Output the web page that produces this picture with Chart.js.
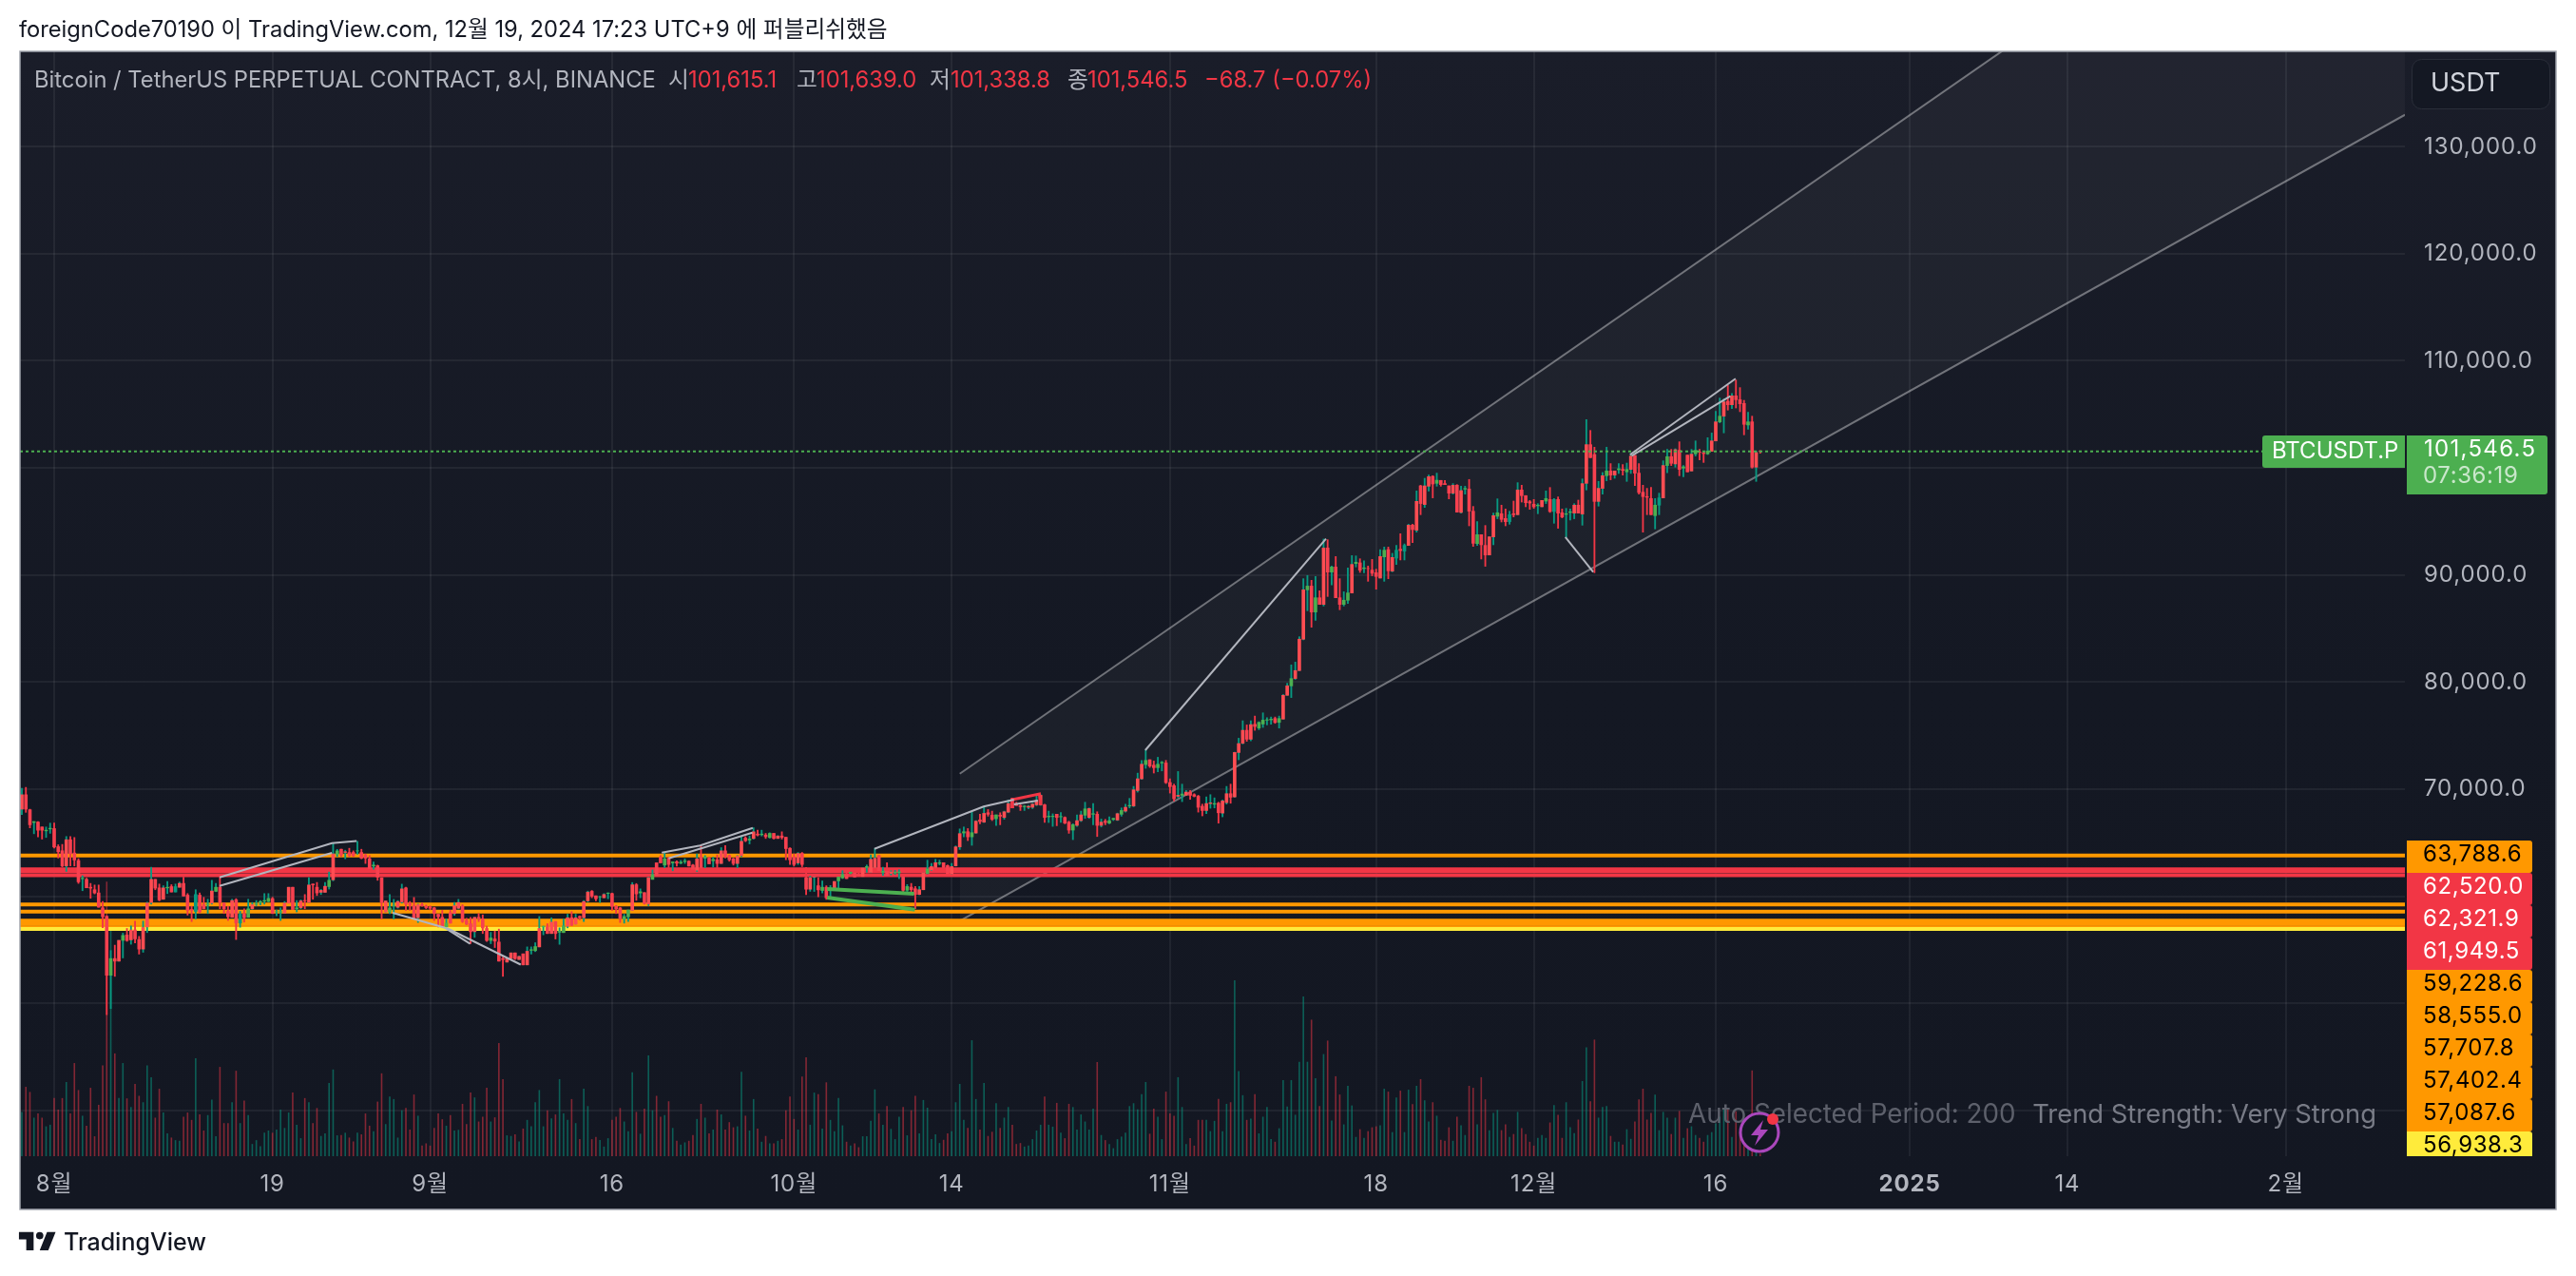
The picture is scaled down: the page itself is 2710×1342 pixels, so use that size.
<!DOCTYPE html>
<html lang="ko">
<head>
<meta charset="utf-8">
<title>BTCUSDT.P</title>
<script src="https://cdn.jsdelivr.net/npm/chart.js@4"></script>
<style>
  html, body { margin: 0; padding: 0; background: #fff; overflow: hidden; }
  body { width: 2710px; height: 1342px; position: relative; font-family: Inter, "Noto Sans CJK KR", sans-serif; }
  #chart { position: absolute; left: 0; top: 0; }
  #byline { position: absolute; left: 20px; top: 16px; font-size: 23.7px; line-height: 30px; color: #131722; white-space: nowrap; }
  #brand { position: absolute; left: 20px; top: 1290px; height: 32px; display: flex; align-items: center; color: #131722; font-size: 25px; font-weight: 500; }
  #brand svg { width: 47px; height: 36px; margin-left: -3px; margin-right: 3px; }
</style>
</head>
<body>
<canvas id="chart" width="2710" height="1342"></canvas>
<div id="byline">foreignCode70190 이 TradingView.com, 12월 19, 2024 17:23 UTC+9 에 퍼블리쉬했음</div>
<div id="brand">
  <svg viewBox="0 0 36 28"><path fill="#131722" d="M14 6H2v6h6v9h6V6Zm12 15h-7l6-15h7l-6 15Zm-7-9a3 3 0 1 0 0-6 3 3 0 0 0 0 6Z"/></svg>
  <span>TradingView</span>
</div>
<script>
// 8h candles, index 0 = Aug 1 2024, one index is one candle
const firstCandle = -8;

const candleOpen = [
  68100,69500,68100,66850,66950,66490,66070,66250,
  66340,64650,64270,62790,65300,64060,63350,61600,61600,60860,
  60630,60330,58940,58140,52580,54200,53900,55840,56400,55890,
  56870,55980,55030,57100,59380,61600,60800,59680,60740,60920,
  60360,60800,61220,60120,58790,58550,60120,59230,59150,59320,
  60420,60860,59380,58640,57990,59680,57460,58380,57990,58790,
  59210,59380,59500,59470,59800,58500,58470,58380,59320,60860,
  58790,58880,59620,59380,61160,60860,60330,60330,60860,61500,
  63880,64410,64060,64110,64110,64190,64110,63880,63520,62780,
  62870,61750,58490,58490,59050,58930,59440,60800,59320,59140,
  57960,59230,59080,59020,58930,58340,58050,57100,58490,58340,
  58840,59080,57750,57450,56650,58050,57900,57010,55830,56030,
  55740,54200,53810,54140,54730,54050,54640,53550,54910,54880,
  55230,57100,57160,56480,57660,56600,56570,57160,58010,57360,
  58130,57960,59530,60480,60060,59910,59820,60230,60270,59080,
  58930,57810,58040,58640,61090,60270,60360,59230,61540,63140,
  63670,62870,63580,63080,63230,63050,63200,63290,62930,62400,
  63670,63520,63580,63280,63430,63020,64260,63820,63520,63020,
  63760,65450,65210,65360,65830,65710,65740,65450,65890,65360,
  65650,65530,64500,63670,63080,64020,61750,60620,61750,61000,
  60500,60860,60570,60570,61400,61670,62050,62110,62200,62050,
  61810,62645,62200,62640,63830,62200,62350,62100,62140,62170,
  61810,60520,60870,60720,60130,60570,62100,62410,62645,63030,
  63150,62880,62050,62790,64570,65870,66050,65510,65870,67150,
  66880,67820,67590,67200,67590,67320,67820,69160,68680,68480,
  68330,68270,68270,68500,68500,68560,67380,67400,67680,67380,
  67380,66940,66140,66580,67030,67530,67320,67620,67680,66580,
  67030,66790,67140,67080,67620,67910,68390,68390,69840,70930,
  72260,72770,72260,71970,72410,72470,70640,70340,69300,69390,
  69390,69750,69510,69360,68420,67970,68620,68560,68710,67730,
  68710,69600,69240,73390,74250,75520,74630,76080,75670,76050,
  76410,76440,76620,76200,76510,78730,79610,80300,81040,83970,
  88580,88990,86510,87900,87220,92550,90240,90770,87900,87220,
  87610,88290,91040,91160,90570,90630,90480,90240,89680,91660,
  92400,90330,91540,92430,92200,92730,94680,94150,98350,96550,
  98260,99240,98530,98860,98560,98350,97610,98410,95810,97990,
  98060,95980,92900,93790,92790,91840,93530,95450,95750,95300,
  94950,95750,95600,97970,97440,96870,96640,96430,96340,96870,
  97080,95900,97080,95840,95630,95810,95750,96550,95660,98530,
  102200,101280,96840,98060,99240,99740,99300,99800,99890,99600,
  99830,101190,99540,97760,97350,97170,95510,96490,97170,100190,
  101080,100340,101670,99950,101220,99680,101280,101520,101430,101280,
  101520,102490,104270,104800,106250,105870,106760,106400,106050,103980,
  104330,100040,101615.1
];

const candleHigh = [
  70100,70190,68150,67000,66990,66490,66490,66850,
  66850,64830,64860,65600,65600,65510,63530,61930,61700,61220,
  61070,61070,59530,58200,54950,55450,55900,56570,57010,57250,
  57700,56270,57700,59470,62730,61600,61160,61000,61400,61100,
  61160,61340,61800,60270,59090,60630,60330,59920,59740,61510,
  61220,61800,59380,59090,59740,59800,58610,58850,59740,59440,
  59620,59620,60270,60270,59920,58730,58940,59530,60860,60860,
  59620,59680,60180,61750,61160,61310,60660,61310,62280,64990,
  64400,64410,64320,64500,64260,65150,64410,63960,63820,63230,
  62930,61750,59580,60180,59730,59620,61150,60860,59530,59910,
  59290,59380,59200,59110,58990,58340,58700,57900,58700,59440,
  59730,59230,57960,58050,58050,58400,58280,57220,56650,56770,
  56950,54350,54200,54730,54730,54430,54640,55290,55290,55680,
  58130,57220,57450,58010,57660,57070,57900,58340,58580,58340,
  58190,59620,60500,60560,60060,60030,60270,60350,60320,59170,
  58990,58340,58730,61300,61210,60710,60360,61800,62480,63140,
  63820,64110,63670,63230,63340,63370,63520,63340,62990,63970,
  64705,63820,63670,63670,63880,64560,64760,63880,63580,63820,
  65590,65590,65650,66420,66190,66190,65890,65950,65890,65680,
  66040,65530,64560,63970,64110,64110,62720,61890,61830,61750,
  61450,61000,61020,61400,61810,62410,62170,62290,62260,62200,
  62650,62940,63890,64480,63830,62730,63150,62400,62440,62500,
  61810,61110,61220,60930,60930,62200,63390,63090,63470,63390,
  63150,62940,63090,64720,66310,66490,66340,67910,67085,67680,
  68360,68120,67970,67620,67820,67970,69010,69160,68800,68560,
  68500,68500,68700,69390,69500,68620,67970,67720,67680,67830,
  67440,67030,66790,67620,67970,68800,68270,68680,67910,67230,
  67200,67440,67320,67790,68270,68620,69160,70280,71520,72710,
  73690,72770,72650,73000,72620,72710,70990,70490,71670,70490,
  69900,69900,69600,69450,68620,69300,69510,69210,68800,69010,
  70280,70490,73480,74780,76410,76020,76410,76850,76320,77150,
  76700,76760,76760,76850,78860,79910,81630,81890,84260,89680,
  89980,89530,89890,88550,93380,93320,90860,91750,89680,88460,
  90680,91840,91810,91540,91360,90860,91480,90570,92400,92640,
  92640,92050,92790,93880,92930,94770,94770,97880,98410,99060,
  99360,99300,99540,98860,98860,98350,98560,98470,98320,98320,
  98950,96430,95010,93790,94650,93590,95810,97140,96550,96190,
  95980,96930,98650,98410,97440,96990,97080,96690,96990,97880,
  98200,97170,97320,96190,96250,96190,96690,97020,99000,104540,
  103530,101960,98770,99600,101960,100430,99740,100430,100340,100480,
  101370,101190,100430,98410,98120,98210,97170,97670,100690,101760,
  101760,101820,102470,100250,101220,101760,102550,101760,101520,102850,
  103290,105310,106550,106460,107730,106990,108240,107530,106340,105220,
  104860,101610,101639
];

const candleLow = [
  67600,67800,66350,65800,65500,65300,65450,65840,
  64470,63530,62700,62280,62790,62790,61160,60480,60750,59770,
  60180,58940,57020,48900,49470,52480,53900,54200,55750,55480,
  55600,54560,54730,56570,59230,60570,59530,59680,60210,60360,
  60360,60800,59980,58200,57600,57840,58400,58790,58350,59230,
  60390,58790,58350,57700,57990,55920,57070,57550,57990,58730,
  59090,59150,59230,59440,58350,58140,57700,58380,59320,58730,
  58500,58790,58790,59380,59680,60030,60120,60330,60630,61400,
  63670,63670,63460,63670,63670,63880,63460,63020,62540,62480,
  61450,57840,58490,58340,57840,58840,59320,58640,58640,57900,
  57510,59020,58790,58700,57690,57100,57100,57100,57450,58190,
  58780,57510,57310,55530,56120,57600,56480,55740,55530,55170,
  53900,52480,53810,54110,54050,54050,53550,53550,54560,54790,
  55230,56360,56480,56480,55970,55470,56570,57010,57220,57360,
  57750,57600,59440,59820,59530,59380,59820,59730,58640,58340,
  57510,57450,57600,58640,59580,59820,59230,59080,61540,61830,
  63080,62630,62630,62340,62780,62990,63020,62780,62340,62280,
  62630,62630,62990,62690,62630,63020,63520,63230,62870,62630,
  63670,65060,64850,65300,65590,65590,65360,65390,65300,65360,
  65300,63370,62930,62780,62930,62720,60120,60420,60410,59910,
  60270,59670,59830,60570,60720,61610,61610,62050,61760,61900,
  61810,62200,62200,62640,62350,61910,61910,61950,61990,61610,
  60280,60340,60370,58800,60100,60570,62050,62350,62645,62880,
  62645,62050,62050,62790,64330,65510,65160,64720,65840,66730,
  66850,67440,67030,66580,66640,67150,67760,68210,68440,67970,
  67970,68120,68150,68420,68450,66850,66850,66490,66550,66850,
  66730,65840,65250,66490,66940,67230,67230,66640,65540,66430,
  66640,66730,67030,67030,67440,67820,68210,68330,69690,70870,
  71910,71990,71470,71590,71670,70490,69600,68860,69160,68800,
  69390,69010,69240,67820,67470,67680,68180,68210,66790,67380,
  68570,68650,69210,72710,74190,74430,74480,75460,75520,75730,
  75970,76030,76110,75670,76510,78730,78520,80210,81040,83910,
  86630,85090,85740,87220,87070,87960,89030,87840,86720,87070,
  87310,88290,90720,90210,90180,89380,89890,88640,89680,89380,
  89620,90270,90950,91370,91370,92730,93000,93970,95600,96280,
  97820,97170,98260,98260,98410,97080,97520,95840,95750,97520,
  94560,92640,92730,91460,90780,91840,92790,95220,94920,94560,
  94710,95390,95600,96780,96340,96100,96190,95690,96340,96640,
  95810,94800,94330,95300,93470,95100,95220,95750,94620,97910,
  100930,90180,96400,97520,98770,98860,99000,99450,99300,98710,
  99450,98320,97520,93970,95600,95600,94270,95600,97170,99510,
  100190,100040,99240,99150,99600,99680,101080,100720,100480,101220,
  101520,102490,104180,103240,105370,105510,105570,105220,103060,103590,
  99950,98710,101338.8
];

const candleClose = [
  69500,68100,66640,66990,66130,66130,66190,66370,
  64560,64120,62790,65300,63940,63350,61310,61700,60750,60720,
  60270,58940,58050,52580,54200,53900,55900,56360,55830,56870,
  55980,55030,57100,59380,61600,60720,59620,60800,60860,60360,
  60920,61220,59980,58640,58640,60180,58500,58790,59290,60510,
  60860,59380,58790,58050,59620,57460,58350,57960,58850,59230,
  59320,59530,59620,59820,58350,58590,58590,59380,60860,58730,
  58940,59590,59530,61070,61020,60270,60570,60950,61510,63970,
  64260,63820,64180,63760,63760,64260,63520,63520,62540,62930,
  61750,59380,59580,58930,59120,59530,60710,59230,59140,57900,
  59230,59080,58900,58840,58340,58050,57160,57510,57450,59140,
  59440,57600,57360,56650,58050,57900,57010,55830,56120,55770,
  53900,54050,54200,54730,54140,54400,53550,54880,55030,55320,
  57010,57220,56480,57600,56480,56750,57250,58010,57250,58010,
  57960,59530,60410,59970,59730,59970,60180,60320,59020,58790,
  57900,58130,58730,61090,60180,60440,59290,61750,62040,61890,
  63080,63520,62930,63230,63050,63200,63320,62780,62480,63520,
  62630,63670,62990,63460,63020,64260,63670,63370,63020,63760,
  65150,65150,65360,66040,65680,65830,65530,65890,65360,65650,
  65450,64410,63370,62930,64020,62930,60620,61750,61810,60560,
  60860,59820,60780,61400,61810,62050,61610,62260,61760,61900,
  62645,62790,63470,63560,62350,62350,61910,62290,62260,62290,
  60520,60930,60570,60130,60630,62200,62560,62790,63150,63150,
  62645,62050,62790,64630,65870,66050,65510,65960,67030,66940,
  67760,67620,67150,67620,67440,67910,68680,68210,68440,68330,
  68440,68420,68620,68980,69450,67320,67500,67500,67320,67470,
  66790,66140,66700,67080,67620,68180,68210,67730,66580,66940,
  66850,67080,67290,67730,68030,68330,68500,69960,70990,72350,
  72710,72120,71970,72350,72530,70580,70200,69070,69450,69570,
  69750,69390,69300,68270,67970,68680,68740,68680,67760,68920,
  69600,69210,73450,74280,75520,74630,76050,75820,76260,76470,
  76500,76560,76200,76620,78790,79670,80350,81100,84030,88640,
  88990,86510,87900,87220,92550,90240,90770,87840,87220,87670,
  88350,91010,91220,90420,90690,90570,90120,89830,91750,92340,
  90360,91660,92340,92250,92790,94680,94210,96900,96640,98350,
  99210,98470,98880,98410,98410,97610,98410,95840,97910,98110,
  95930,92930,93790,92790,91840,93590,95570,95840,95160,94950,
  95660,95600,97970,97380,96720,96690,96340,96550,96990,97170,
  95900,97080,95750,95390,95750,95930,96550,95750,98560,102200,
  100930,96840,98120,99300,99740,99300,99740,99950,99740,99890,
  101130,99480,97670,97290,97230,95600,96550,97230,100250,101080,
  100400,101730,99830,100130,99600,101310,101670,101430,101310,101610,
  102550,104330,104860,106200,105870,106760,106340,105960,104040,104330,
  100040,101460,101546.5
];

const candleVolume = [
  138,216,200,120,133,120,93,98,
  181,145,181,231,133,290,206,126,95,213,
  62,160,283,855,713,320,181,290,180,153,
  225,188,168,283,246,120,210,136,71,58,
  50,48,123,136,113,305,130,80,128,176,
  62,278,103,103,168,266,103,173,128,38,
  50,31,73,80,73,83,145,88,136,198,
  98,56,181,168,103,150,63,71,228,270,
  65,66,73,58,46,73,68,133,95,78,
  170,258,100,186,178,58,143,150,83,192,
  126,33,40,33,88,133,115,95,128,80,
  82,163,100,198,183,108,123,213,108,121,
  352,240,65,63,68,46,86,113,93,168,
  206,93,143,118,130,240,133,113,178,103,
  53,210,156,53,60,50,30,56,113,123,
  150,108,78,261,138,70,148,314,143,188,
  123,128,171,88,48,36,43,48,66,116,
  163,120,71,83,145,130,83,106,90,93,
  263,126,80,178,86,45,63,40,40,48,
  53,143,186,116,83,248,308,98,198,193,
  86,230,113,78,181,96,45,33,40,28,
  62,62,110,208,133,98,156,85,53,123,
  153,65,143,188,71,175,151,53,68,41,
  51,71,78,168,225,113,88,361,178,83,
  228,63,76,165,88,120,153,98,38,41,
  30,33,53,80,98,186,98,92,166,73,
  56,163,153,83,130,108,83,148,293,66,
  50,38,25,53,61,73,156,165,146,193,
  231,70,148,123,53,201,133,126,246,153,
  38,56,33,113,113,113,78,110,178,78,
  163,168,548,265,190,113,117,193,71,123,
  153,53,45,87,237,155,237,129,294,497,
  294,425,243,156,318,360,111,249,192,99,
  219,158,60,84,57,78,90,93,96,210,
  201,75,183,204,75,207,162,219,240,174,
  108,168,126,51,48,90,48,123,96,66,
  219,213,99,246,177,81,135,144,81,99,
  60,69,138,87,69,45,33,57,66,57,
  105,159,129,57,168,90,72,114,234,339,
  171,363,120,153,156,63,45,45,36,84,
  54,108,177,210,114,135,192,81,138,120,
  69,120,141,57,87,93,66,57,45,66,
  75,102,123,150,147,60,140,75,55,60,
  267,20,8
];

// candles whose body is painted by the study instead of plain red
const greenBodies = [-5,-2,-1,7,14,17,28,38,40,48,50,51,52,53,55,56,60,68,70,75,79,83,84,97,108,118,119,121,125,126,135,137,141,142,145,148,151,153,155,156,161,163,172,175,177,190,192,194,195,197,201,205,208,209,211,216,219,225,227,233,240,246,247,249,252,255,257,261,262,264,266,270,273,274,279,287,298,299,300,301,303,306,310,312,316,319,320,322,324,329,342,349,352,357,367,369,374,375,384,387,389,396,399,403,406,409,412,419];
const tealBodies = [30,35,46,332,334,360,371,397];

const timeTickCandles = [0, 54, 93, 138, 183, 222, 276, 327, 366, 411, 459, 498, 552];
const timeTickLabels = ['8월', '19', '9월', '16', '10월', '14', '11월', '18', '12월', '16', '2025', '14', '2월'];
const priceTicks = [40000, 50000, 60000, 70000, 80000, 90000, 100000, 110000, 120000, 130000];

// support / resistance levels with their tags on the price scale
const levelPrices = [63788.6, 62520.0, 62321.9, 61949.5, 59228.6, 58555.0, 57707.8, 57402.4, 57087.6, 56938.3];
const levelColors = ['#ff9800', '#f23645', '#f23645', '#f23645', '#ff9800', '#ff9800', '#ff9800', '#ff9800', '#ff9800', '#ffeb3b'];
const levelTextColors = ['#000', '#fff', '#fff', '#fff', '#000', '#000', '#000', '#000', '#000', '#000'];

const lastPrice = 101546.5;
const countdown = '07:36:19';

// rising channel, same candle positions on both rails
const channelCandles = [224, 581.5];
const channelUpper = [71439, 165018];
const channelLower = [57673, 132984];

// drawn swing lines as [candle, price] pairs
const swingLines = [
  [[40.9, 61758], [68.7, 64947], [74.8, 65151]],
  [[40.9, 60959], [68.7, 64041]],
  [[83.7, 58446], [96.6, 57051], [102.9, 55551]],
  [[97.1, 57025], [115.4, 53606]],
  [[150.3, 64068], [159.8, 64725], [172.8, 66377]],
  [[152, 63535], [172.7, 65932]],
  [[202.9, 64423], [229.9, 68366], [237.4, 69014]],
  [[237.4, 68570], [243.3, 68925]],
  [[269.9, 73632], [314.6, 93375]],
  [[373.8, 93526], [380.7, 90266]],
  [[389.8, 101226], [415.9, 108330]],
  [[390.2, 101137], [414.6, 106696]]
];
const bearSwing = [[237, 68215], [237, 69014], [243.7, 69547], [244, 68508]];
const bullSwings = [
  [[191.2, 60666], [212.7, 60222]],
  [[191.2, 59867], [212.9, 58739]]
];

const panelLeft = 21, panelTop = 54, panelRight = 2689, panelBottom = 1272;
const uiFont = 'Inter, "Noto Sans CJK KR", sans-serif';
const teal = '#089981', red = '#f23645', green = '#4caf50';

const candles = candleClose.map((close, i) => {
  const open = candleOpen[i];
  const x = i + firstCandle;
  return { x, open, close, high: candleHigh[i], low: candleLow[i], volume: candleVolume[i], up: close >= open };
});

const bodyColor = (c) => {
  if (greenBodies.includes(c.x)) return green;
  if (tealBodies.includes(c.x)) return teal;
  return c.up ? '#ff4d52' : '#f7404f';
};

const lineSet = (points, color, width, order, extra) => ({
  type: 'line',
  data: points.map(([x, y]) => ({ x, y })),
  borderColor: color,
  borderWidth: width,
  pointRadius: 0,
  tension: 0,
  fill: false,
  order,
  yAxisID: 'y',
  ...extra
});

const barSet = (data, colors, pct, order, axis) => ({
  type: 'bar',
  data,
  backgroundColor: colors,
  borderWidth: 0,
  grouped: false,
  barPercentage: pct,
  categoryPercentage: 1,
  order,
  yAxisID: axis
});

const xMin = (panelLeft - 57) / 4.253;
const xMax = (2530 - 57) / 4.253;

const datasets = [
  lineSet(channelCandles.map((x, i) => [x, channelUpper[i]]), 'rgba(255,255,255,0.38)', 2, 6, { fill: '+1', backgroundColor: 'rgba(255,255,255,0.035)' }),
  lineSet(channelCandles.map((x, i) => [x, channelLower[i]]), 'rgba(255,255,255,0.38)', 2, 6),
  barSet(candles.map((c) => ({ x: c.x, y: c.volume })), candles.map((c) => (c.up ? 'rgba(8,153,129,0.55)' : 'rgba(242,54,69,0.5)')), 0.38, 7, 'vol'),
  barSet(candles.map((c) => ({ x: c.x, y: [c.low, c.high] })), candles.map((c) => (c.up ? teal : red)), 0.44, 4, 'y'),
  barSet(candles.map((c) => ({ x: c.x, y: [c.open, c.close] })), candles.map(bodyColor), 0.86, 3, 'y'),
  lineSet([[xMin, lastPrice], [xMax, lastPrice]], green, 2, 2, { borderDash: [3, 3] }),
  // the lower a level, the later it is painted, so the yellow one stays whole
  ...levelPrices.map((p, i) => lineSet([[xMin, p], [xMax, p]], levelColors[i], 4, 5 - i * 0.01)),
  ...swingLines.map((pts) => lineSet(pts, '#b2b5be', 2, 1)),
  lineSet(bearSwing, '#f23645', 3, 1),
  ...bullSwings.map((pts) => lineSet(pts, green, 4, 1))
];

const fmtPrice = (v) => v.toLocaleString('en-US', { minimumFractionDigits: 1, maximumFractionDigits: 1 });

// panel background, drawn under the grid
const panelBackground = {
  id: 'panelBackground',
  beforeDraw(chart) {
    const { ctx } = chart;
    const g = ctx.createLinearGradient(0, panelTop, 0, panelBottom);
    g.addColorStop(0, '#1a1d29');
    g.addColorStop(0.55, '#141823');
    g.addColorStop(1, '#131722');
    ctx.save();
    ctx.fillStyle = g;
    ctx.fillRect(panelLeft, panelTop, panelRight - panelLeft, panelBottom - panelTop);
    ctx.restore();
    // axis digits run wider than plain Inter
    ctx.letterSpacing = '0.9px';
  }
};

const text = (ctx, str, x, y, color, font, align, spacing) => {
  ctx.letterSpacing = spacing || '0px';
  ctx.fillStyle = color;
  ctx.font = font;
  ctx.textAlign = align || 'left';
  ctx.textBaseline = 'middle';
  ctx.fillText(str, x, y);
};

// legend row, tags, badge and study status on top of everything
const overlays = {
  id: 'overlays',
  afterDraw(chart) {
    const { ctx, chartArea } = chart;
    const font24 = `24px ${uiFont}`;
    const wide = '1.3px';
    ctx.save();

    // legend row
    const grey = '#b2b5be';
    const legendFont = `23.75px ${uiFont}`;
    text(ctx, 'Bitcoin / TetherUS PERPETUAL CONTRACT, 8시, BINANCE', 36, 85, grey, legendFont);
    [['시', 703, 724, 101615.1], ['고', 838, 859, 101639.0], ['저', 978, 1000, 101338.8], ['종', 1123, 1144, lastPrice]].forEach(([k, kx, vx, v]) => {
      text(ctx, k, kx, 85, grey, legendFont);
      text(ctx, fmtPrice(v), vx, 85, red, legendFont);
    });
    text(ctx, '−68.7 (−0.07%)', 1267, 85, red, legendFont);

    // study status line
    text(ctx, 'Auto Selected Period: 200', 1776, 1173, '#5d606b', `27.8px ${uiFont}`);
    text(ctx, 'Trend Strength: Very Strong', 2500, 1173, '#787b86', `27.4px ${uiFont}`, 'right');

    // alert badge
    const bx = 1851, by = 1191;
    ctx.beginPath();
    ctx.arc(bx, by, 20, 0, Math.PI * 2);
    ctx.fillStyle = '#131722';
    ctx.fill();
    ctx.strokeStyle = '#ab47bc';
    ctx.lineWidth = 3;
    ctx.stroke();
    ctx.beginPath();
    ctx.moveTo(bx + 4, by - 13);
    ctx.lineTo(bx - 9, by + 3);
    ctx.lineTo(bx - 1, by + 3);
    ctx.lineTo(bx - 5, by + 14);
    ctx.lineTo(bx + 9, by - 3);
    ctx.lineTo(bx + 1, by - 3);
    ctx.closePath();
    ctx.fillStyle = '#ab47bc';
    ctx.fill();
    ctx.beginPath();
    ctx.arc(bx + 14, by - 14, 6, 0, Math.PI * 2);
    ctx.fillStyle = red;
    ctx.fill();

    // stacked level tags on the price scale, clipped at the bottom of the plot
    ctx.save();
    ctx.beginPath();
    ctx.rect(2530, panelTop, 160, chartArea.bottom - panelTop);
    ctx.clip();
    const tagLeft = 2532, tagWidth = 132, tagHeight = 34;
    levelPrices.forEach((p, i) => {
      const top = 884 + i * tagHeight;
      ctx.fillStyle = levelColors[i];
      ctx.beginPath();
      ctx.roundRect(tagLeft, top, tagWidth, tagHeight, [0, 3, 3, 0]);
      ctx.fill();
      text(ctx, fmtPrice(p), 2549, top + 15, levelTextColors[i], font24, 'left', '0.6px');
    });
    ctx.restore();

    // last price tags
    ctx.fillStyle = green;
    ctx.beginPath();
    ctx.roundRect(2380, 458, 150, 34, [3, 0, 0, 3]);
    ctx.fill();
    text(ctx, 'BTCUSDT.P', 2390, 475, '#fff', font24);
    ctx.fillStyle = green;
    ctx.beginPath();
    ctx.roundRect(2532, 458, 148, 62, [0, 3, 3, 0]);
    ctx.fill();
    text(ctx, fmtPrice(lastPrice), 2550, 473, '#fff', font24, 'left', wide);
    text(ctx, countdown, 2549, 501, 'rgba(255,255,255,0.7)', font24, 'left', '0.6px');

    // currency button
    ctx.beginPath();
    ctx.roundRect(2537.5, 62.5, 145, 52, 10);
    ctx.fillStyle = '#141823';
    ctx.fill();
    ctx.strokeStyle = '#2a2e39';
    ctx.lineWidth = 1;
    ctx.stroke();
    text(ctx, 'USDT', 2557, 88, '#d1d4dc', `27px ${uiFont}`);

    // panel frame
    ctx.strokeStyle = '#a3a6af';
    ctx.lineWidth = 1.5;
    ctx.strokeRect(panelLeft, panelTop, panelRight - panelLeft, panelBottom - panelTop);
    ctx.restore();
  }
};

new Chart(document.getElementById('chart'), {
  data: { datasets },
  plugins: [panelBackground, overlays],
  options: {
    responsive: false,
    animation: false,
    layout: { padding: { left: panelLeft, top: panelTop, right: 2710 - panelRight, bottom: 1342 - panelBottom } },
    plugins: { legend: { display: false }, tooltip: { enabled: false } },
    scales: {
      x: {
        type: 'linear',
        min: xMin,
        max: xMax,
        offset: false,
        afterBuildTicks: (axis) => { axis.ticks = timeTickCandles.map((value) => ({ value })); },
        afterFit: (axis) => { axis.height = panelBottom - 1216; },
        border: { display: false },
        grid: { color: 'rgba(255,255,255,0.06)', lineWidth: 2, drawTicks: false, offset: false },
        ticks: {
          autoSkip: false,
          maxRotation: 0,
          padding: 15,
          color: '#b2b5be',
          font: (c) => ({ family: uiFont, size: 24, weight: c.index === 10 ? 'bold' : 'normal' }),
          callback: (v, i) => timeTickLabels[i]
        }
      },
      y: {
        type: 'linear',
        position: 'right',
        min: 35711,
        max: 138907,
        afterBuildTicks: (axis) => { axis.ticks = priceTicks.map((value) => ({ value })); },
        afterFit: (axis) => { axis.width = panelRight - 2530; },
        border: { display: false },
        grid: { color: 'rgba(255,255,255,0.06)', lineWidth: 2, drawTicks: false },
        ticks: {
          padding: 20,
          color: '#b2b5be',
          font: { family: uiFont, size: 24 },
          callback: (v) => fmtPrice(v)
        }
      },
      vol: { type: 'linear', display: false, min: 0, max: 3440 }
    }
  }
});
</script>
</body>
</html>
